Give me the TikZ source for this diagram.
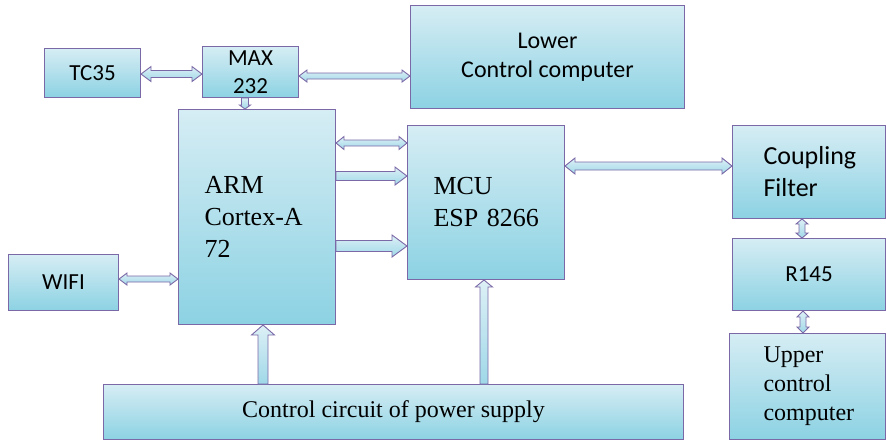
\documentclass[tikz,border=0pt]{standalone}
\usepackage{fontspec}
\setmainfont{Liberation Serif}
\newfontfamily\carl{Carlito}
\usetikzlibrary{calc}
\definecolor{bordc}{HTML}{7B68A6}
\definecolor{boxtop}{HTML}{D6EDF4}
\definecolor{boxbot}{HTML}{8CD2E3}
\definecolor{arrtop}{HTML}{DDF0F6}
\definecolor{arrbot}{HTML}{9FD8E8}
% horizontal double block arrow: left tip, right tip, shaft half, head half, head length
\newcommand\hdarr[5]{\path[blockarrow] let \p1=#1, \p2=#2 in
  (\x1,\y1) -- ({\x1+#5},{\y1+#4}) -- ({\x1+#5},{\y1+#3}) -- ({\x2-#5},{\y1+#3}) -- ({\x2-#5},{\y1+#4}) -- (\x2,\y1)
  -- ({\x2-#5},{\y1-#4}) -- ({\x2-#5},{\y1-#3}) -- ({\x1+#5},{\y1-#3}) -- ({\x1+#5},{\y1-#4}) -- cycle;}
% single block arrow to the right: base, tip
\newcommand\rarr[5]{\path[blockarrow] let \p1=#1, \p2=#2 in
  (\x1,{\y1+#3}) -- ({\x2-#5},{\y1+#3}) -- ({\x2-#5},{\y1+#4}) -- (\x2,\y1) -- ({\x2-#5},{\y1-#4}) -- ({\x2-#5},{\y1-#3}) -- (\x1,{\y1-#3}) -- cycle;}
% single block arrow upward: base, tip
\newcommand\uparr[5]{\path[blockarrow] let \p1=#1, \p2=#2 in
  ({\x2-#3},\y1) -- ({\x2-#3},{\y2-#5}) -- ({\x2-#4},{\y2-#5}) -- (\x2,\y2) -- ({\x2+#4},{\y2-#5}) -- ({\x2+#3},{\y2-#5}) -- ({\x2+#3},\y1) -- cycle;}
% single block arrow downward: base, tip
\newcommand\dnarr[5]{\path[blockarrow] let \p1=#1, \p2=#2 in
  ({\x2-#3},\y1) -- ({\x2-#3},{\y2+#5}) -- ({\x2-#4},{\y2+#5}) -- (\x2,\y2) -- ({\x2+#4},{\y2+#5}) -- ({\x2+#3},{\y2+#5}) -- ({\x2+#3},\y1) -- cycle;}
% vertical double block arrow: top tip, bottom tip
\newcommand\vdarr[5]{\path[blockarrow] let \p1=#1, \p2=#2 in
  (\x1,\y1) -- ({\x1+#4},{\y1-#5}) -- ({\x1+#3},{\y1-#5}) -- ({\x1+#3},{\y2+#5}) -- ({\x1+#4},{\y2+#5}) -- (\x1,\y2)
  -- ({\x1-#4},{\y2+#5}) -- ({\x1-#3},{\y2+#5}) -- ({\x1-#3},{\y1-#5}) -- ({\x1-#4},{\y1-#5}) -- cycle;}
\begin{document}
\begin{tikzpicture}[x=1pt,y=-1pt,
  box/.style={draw=bordc, line width=1pt, top color=boxtop, bottom color=boxbot,
    anchor=north west, inner sep=0pt, align=center},
  leftbox/.style={box, align=left},
  blockarrow/.style={draw=bordc, line width=0.9pt, top color=arrtop, bottom color=arrbot},
  sansA/.style={font=\carl\fontsize{23}{28}\selectfont},
  sansB/.style={font=\carl\fontsize{26}{32}\selectfont},
  serifA/.style={font=\fontsize{26}{32}\selectfont},
  serifB/.style={font=\fontsize{24}{29}\selectfont}]
\useasboundingbox (0,0) rectangle (886,440);

\node[box, sansA, minimum width=96pt, minimum height=49pt] (tc) at (44,48) {TC35};
\node[box, sansA, minimum width=96pt, minimum height=51pt] (mx) at (202,46) {MAX\\232};
\node[box, font=\carl\fontsize{24}{29}\selectfont, minimum width=274pt, minimum height=103pt] (lc) at (410,5) {Lower\\Control computer};
\node[leftbox, serifA, text width=105pt, inner xsep=26pt, minimum width=157pt, minimum height=215pt] (arm) at (178,109) {ARM\\Cortex-A\\72};
\node[leftbox, serifA, text width=105pt, inner xsep=26pt, minimum width=157pt, minimum height=154pt] (mcu) at (407,125) {MCU\\ESP~8266};
\node[leftbox, sansB, text width=91pt, inner xsep=31pt, minimum width=153pt, minimum height=93pt] (cf) at (732,125) {Coupling\\Filter};
\node[box, sansA, minimum width=153pt, minimum height=72pt] (r145) at (732,238) {R145};
\node[leftbox, serifB, text width=88pt, inner xsep=34pt, minimum width=156pt, minimum height=106pt] (up) at (729,333) {Upper\\control\\computer};
\node[box, sansA, minimum width=110pt, minimum height=56pt] (wifi) at (8,254) {WIFI};
\node[box, serifB, minimum width=580pt, minimum height=55pt] (pw) at (103,384) {Control circuit of power supply};

\hdarr{(tc.east|-0,74)}{(mx.west|-0,74)}{3.5pt}{7.5pt}{10pt}
\hdarr{(mx.east|-0,76)}{(lc.west|-0,76)}{3pt}{6pt}{8pt}
\dnarr{(mx.south-|245,0)}{(arm.north-|245,0)}{3.5pt}{5.5pt}{4pt}
\hdarr{(arm.east|-0,143)}{(mcu.west|-0,143)}{3pt}{6.5pt}{8pt}
\rarr{(arm.east|-0,176)}{(mcu.west|-0,176)}{4.5pt}{9pt}{12pt}
\rarr{(arm.east|-0,246)}{(mcu.west|-0,246)}{5.5pt}{11pt}{15pt}
\hdarr{(mcu.east|-0,166)}{(cf.west|-0,166)}{4pt}{8pt}{10pt}
\vdarr{(cf.south-|802,0)}{(r145.north-|802,0)}{3pt}{6pt}{5pt}
\vdarr{(r145.south-|803,0)}{(up.north-|803,0)}{3pt}{6pt}{6pt}
\hdarr{(wifi.east|-0,279)}{(arm.west|-0,279)}{3pt}{6pt}{8pt}
\uparr{(pw.north-|263,0)}{(arm.south-|263,0)}{5pt}{11.5pt}{10pt}
\uparr{(pw.north-|484,0)}{(mcu.south-|484,0)}{4pt}{8.5pt}{7pt}
\end{tikzpicture}
\end{document}
